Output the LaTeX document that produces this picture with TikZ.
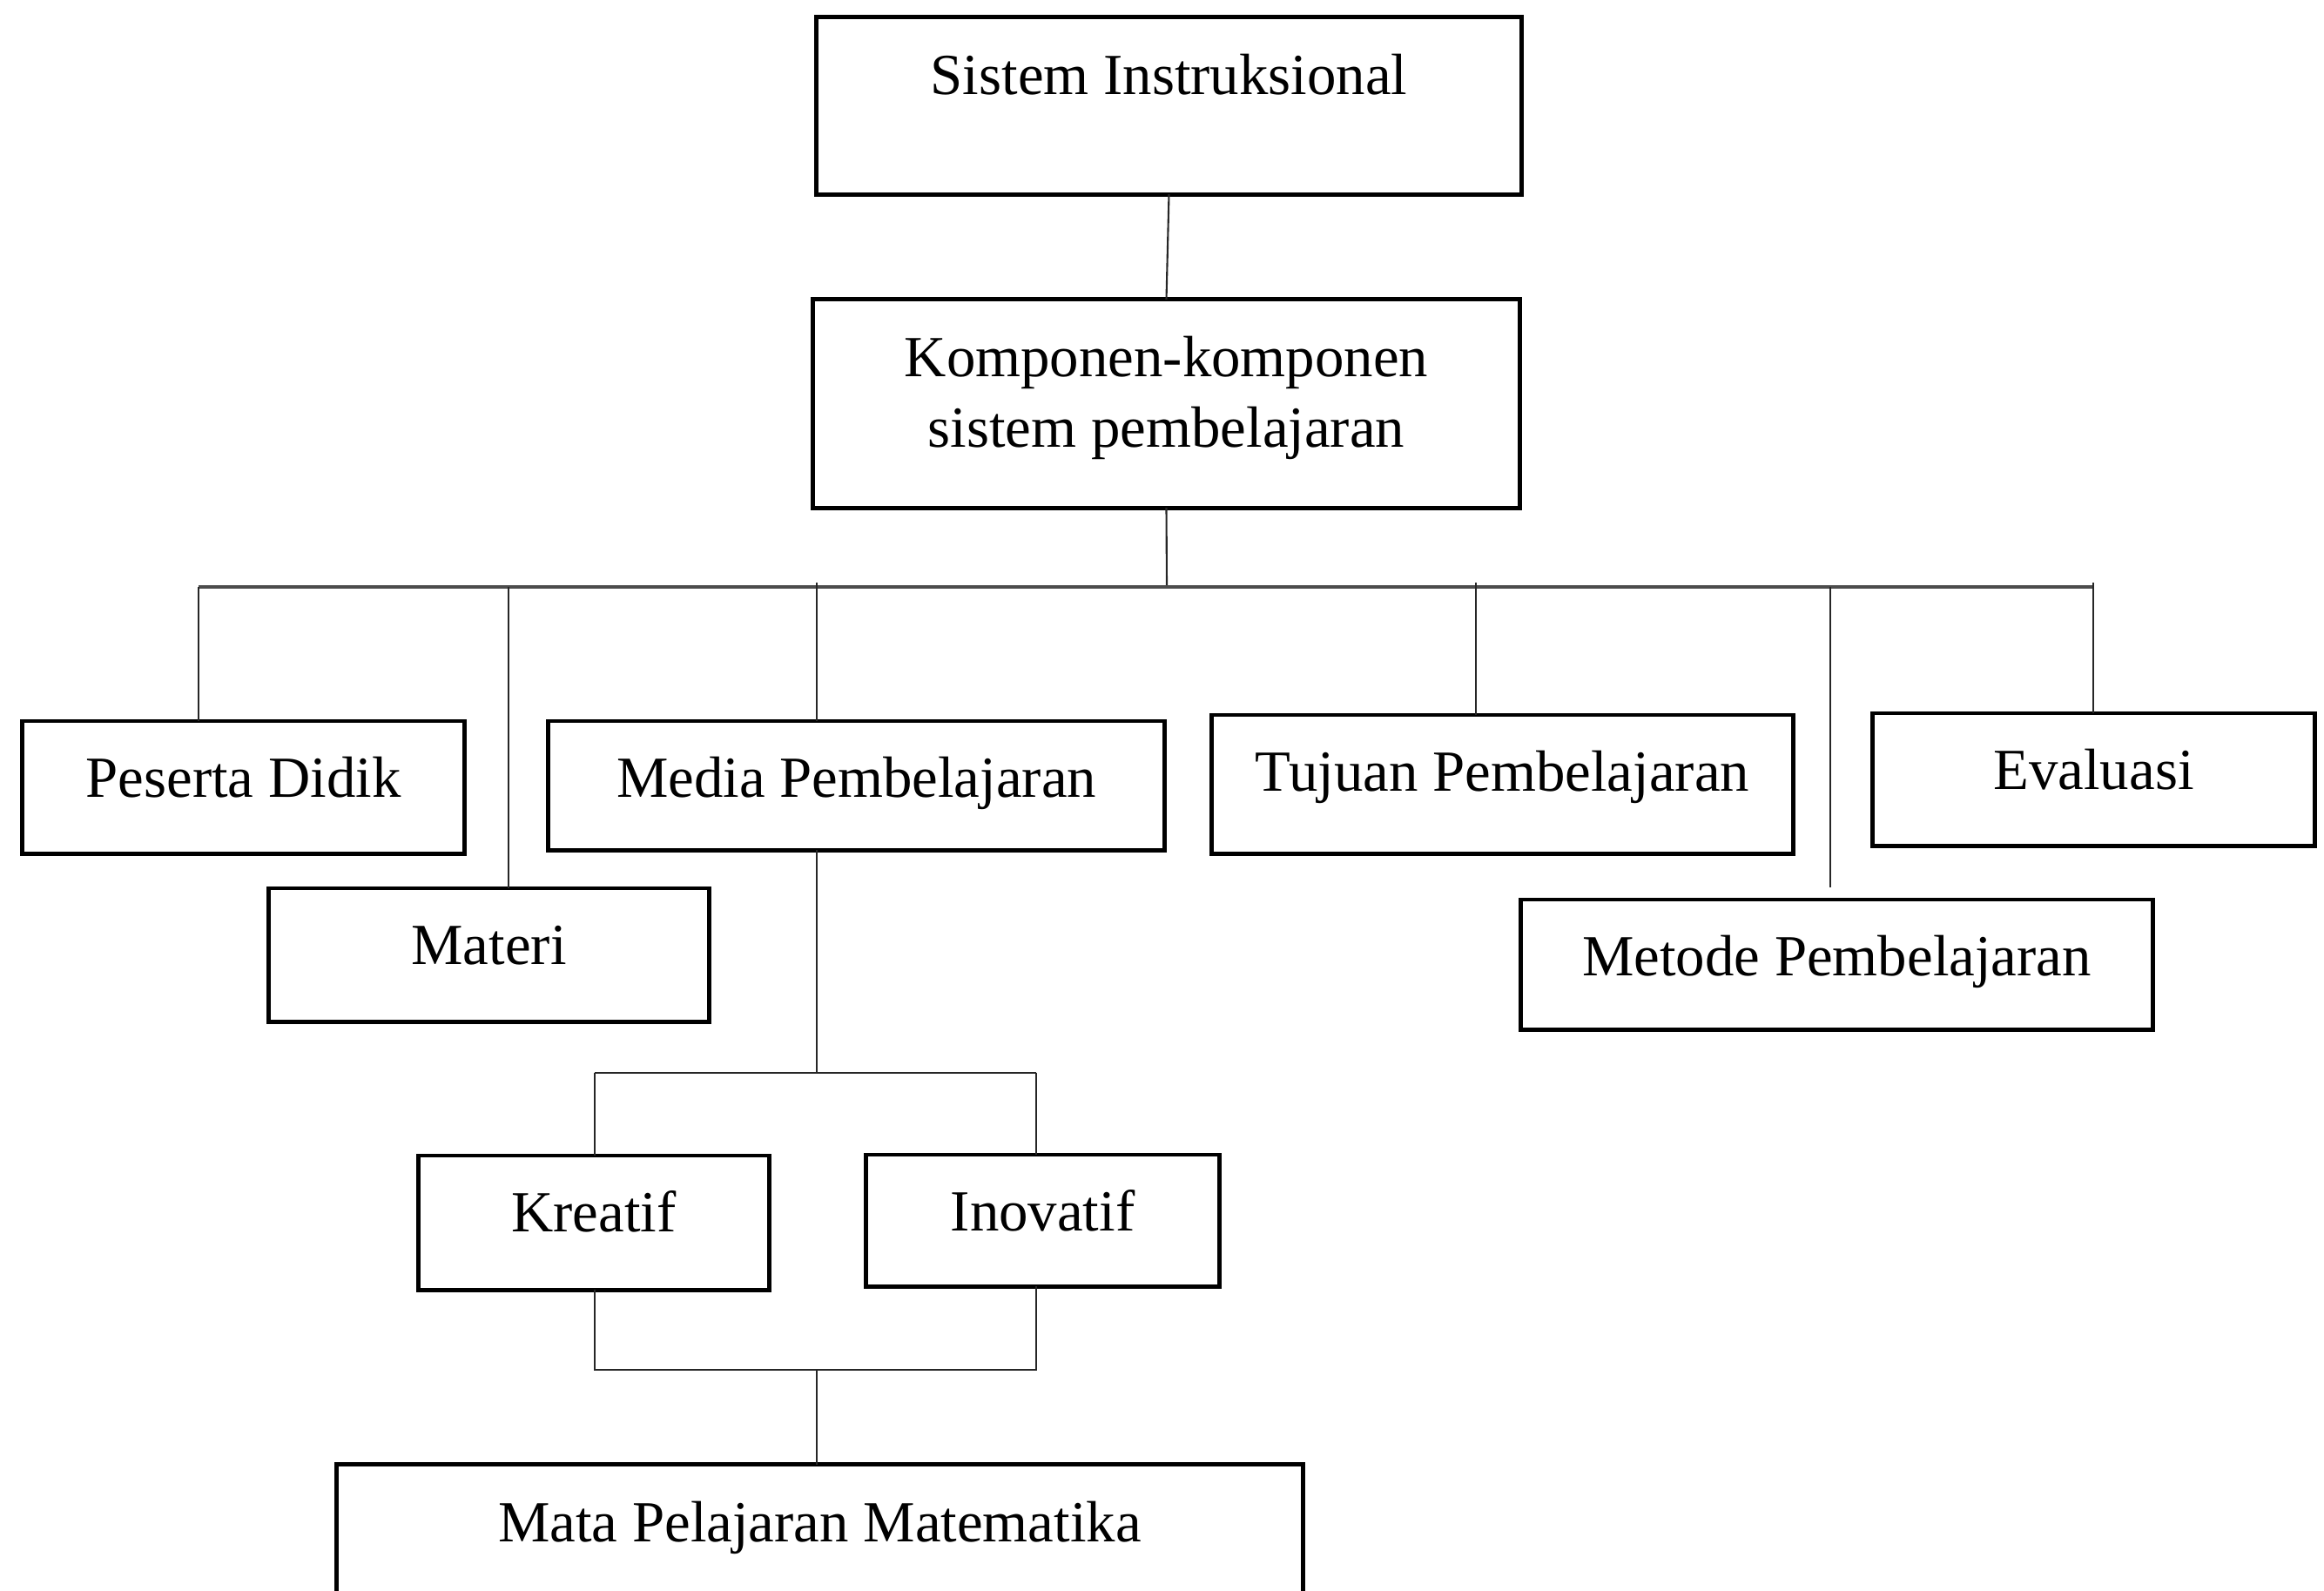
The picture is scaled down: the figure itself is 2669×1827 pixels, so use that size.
\documentclass[tikz,border=0pt]{standalone}
\usepackage{fontspec}
\setmainfont{Liberation Serif}
\begin{document}
\begin{tikzpicture}[x=0.01cm,y=-0.01cm,
  box/.style={draw=black,line width=1.4pt,inner sep=0pt,outer sep=0pt,fill=none},
  lbl/.style={anchor=base,inner sep=0pt,font=\fontsize{19}{23}\selectfont},
  link/.style={draw=black!85,line width=0.6pt},
  busline/.style={draw=black!70,line width=0.9pt}]
\useasboundingbox (0,0) rectangle (2669,1827);
\clip (0,0) rectangle (2669,1827);
% boxes
\node[box,minimum width=8.09cm,minimum height=2.03cm] (sis) at (1342.5,121.5) {};
\node[box,minimum width=8.11cm,minimum height=2.39cm] (komp) at (1339.5,463.5) {};
\node[box,minimum width=5.07cm,minimum height=1.52cm] (pes) at (279.5,904) {};
\node[box,minimum width=5.05cm,minimum height=1.53cm] (mat) at (561.5,1096.5) {};
\node[box,minimum width=7.07cm,minimum height=1.48cm] (med) at (983.5,902) {};
\node[box,minimum width=6.67cm,minimum height=1.59cm] (tuj) at (1725.5,900.5) {};
\node[box,minimum width=7.25cm,minimum height=1.49cm] (met) at (2109.5,1107.5) {};
\node[box,minimum width=5.07cm,minimum height=1.52cm] (eva) at (2404.5,895) {};
\node[box,minimum width=4.02cm,minimum height=1.54cm] (kre) at (682,1404) {};
\node[box,minimum width=4.05cm,minimum height=1.51cm] (ino) at (1197.5,1401.5) {};
\node[box,minimum width=11.09cm,minimum height=2.3cm] (mtk) at (941.5,1797) {};
% texts
\node[lbl] (tsis) at (1342.5,108) {Sistem Instruksional};
\node[lbl] (tkomp1) at (1339.5,432) {Komponen-komponen};
\node[lbl] (tkomp2) at (1339.5,513) {sistem pembelajaran};
\node[lbl] (tpes) at (279.5,915) {Peserta Didik};
\node[lbl] (tmat) at (561.5,1107) {Materi};
\node[lbl] (tmed) at (983.5,915) {Media Pembelajaran};
\node[lbl] (ttuj) at (1725.5,908) {Tujuan Pembelajaran};
\node[lbl] (tmet) at (2109.5,1120) {Metode Pembelajaran};
\node[lbl] (teva) at (2404.5,906) {Evaluasi};
\node[lbl] (tkre) at (682,1414) {Kreatif};
\node[lbl] (tino) at (1197.5,1413) {Inovatif};
\node[lbl] (tmtk) at (941.5,1770) {Mata Pelajaran Matematika};
% bus coordinates
\coordinate (bK) at (1340,674);
\coordinate (bL) at (228,674);
\coordinate (bR) at (2404,674);
\coordinate (bPes) at (228,674);
\coordinate (bMat) at (584,674);
\coordinate (bMed) at (938,669);
\coordinate (bTuj) at (1695,669);
\coordinate (bMet) at (2102,674);
\coordinate (eMet) at (2102,1019);
\coordinate (bEva) at (2404,669);
\coordinate (mD) at (938,1232);
\coordinate (sL) at (683,1232);
\coordinate (sR) at (1190,1232);
\coordinate (mL) at (683,1573);
\coordinate (mR) at (1190,1573);
\coordinate (mC) at (938,1573);
% connectors
\draw[link] (sis.south) -- (komp.north);
\draw[link] (komp.south) -- (bK);
\draw[busline] (bL) -- (bR);
\draw[link] (bPes) -- (bPes |- pes.north);
\draw[link] (bMat) -- (bMat |- mat.north);
\draw[link] (bMed) -- (bMed |- med.north);
\draw[link] (bTuj) -- (bTuj |- tuj.north);
\draw[link] (bMet) -- (eMet);
\draw[link] (bEva) -- (bEva |- eva.north);
\draw[link] (mD |- med.south) -- (mD);
\draw[link] (sL) -- (sR);
\draw[link] (sL) -- (sL |- kre.north);
\draw[link] (sR) -- (sR |- ino.north);
\draw[link] (mL |- kre.south) -- (mL) -- (mR) -- (mR |- ino.south);
\draw[link] (mC) -- (mC |- mtk.north);
\end{tikzpicture}
\end{document}
